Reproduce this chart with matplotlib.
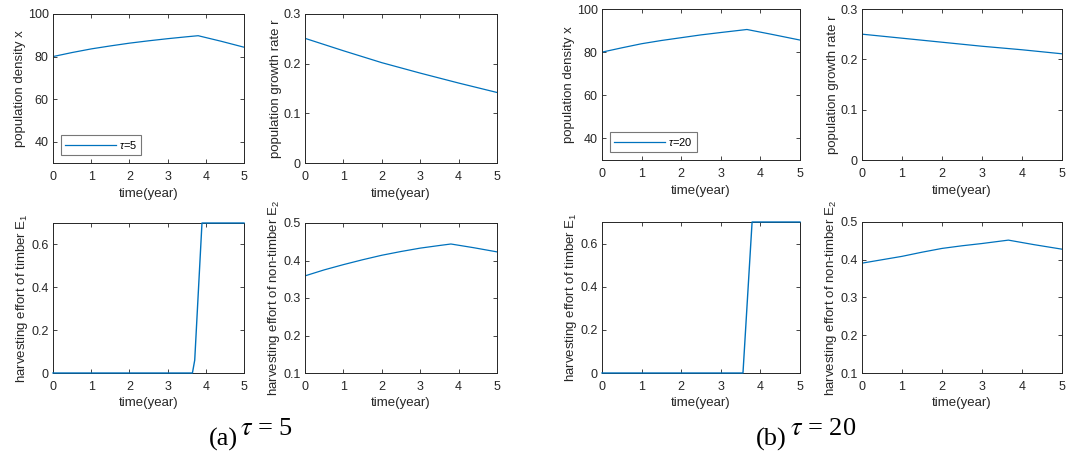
import matplotlib
matplotlib.use("Agg")
import matplotlib.pyplot as plt
from matplotlib.ticker import FormatStrFormatter

plt.rcParams['font.family'] = ['Liberation Sans', 'DejaVu Sans']
plt.rcParams['mathtext.fontset'] = 'custom'
plt.rcParams['mathtext.rm'] = 'Liberation Sans'
plt.rcParams['mathtext.it'] = 'Liberation Sans:italic'

BLUE = '#0072BD'
INK = '#262626'

# ---- data ----
# (a) tau = 5
t_x_a = [0, 0.5, 1, 1.5, 2, 2.5, 3, 3.5, 3.8, 4.4, 5]
x_a = [80, 81.9, 83.6, 85.0, 86.3, 87.4, 88.4, 89.3, 89.8, 87.2, 84.4]
t_r_a = [0, 1, 2, 3, 4, 5]
r_a = [0.251, 0.226, 0.202, 0.181, 0.161, 0.142]
t_e1_a = [0, 3.65, 3.71, 3.90, 5]
e1_a = [0, 0, 0.06, 0.70, 0.70]
t_e2_a = [0, 0.5, 1, 1.5, 2, 2.5, 3, 3.5, 3.8, 4.4, 5]
e2_a = [0.359, 0.375, 0.389, 0.402, 0.414, 0.424, 0.433, 0.440, 0.444, 0.434, 0.423]

# (b) tau = 20
t_x_b = [0, 0.5, 1, 1.5, 2, 2.5, 3, 3.66, 4.3, 5]
x_b = [80, 82.0, 83.9, 85.4, 86.7, 88.0, 89.1, 90.5, 88.2, 85.6]
t_r_b = [0, 1, 2, 3, 4, 5]
r_b = [0.250, 0.242, 0.234, 0.226, 0.219, 0.211]
t_e1_b = [0, 3.56, 3.79, 5]
e1_b = [0, 0, 0.70, 0.70]
t_e2_b = [0, 0.5, 1, 1.5, 2, 2.5, 3, 3.66, 4.3, 5]
e2_b = [0.391, 0.400, 0.409, 0.420, 0.430, 0.437, 0.443, 0.452, 0.440, 0.428]

W, H = 1067, 454
fig = plt.figure(figsize=(W / 100, H / 100), dpi=100)


def box(left, right, top, bottom):
    return [left / W, 1 - bottom / H, (right - left) / W, (bottom - top) / H]


def style(ax, ylim, yticks, ylabel):
    ax.set_xlim(0, 5)
    ax.set_ylim(*ylim)
    ax.set_xticks([0, 1, 2, 3, 4, 5])
    ax.set_yticks(yticks)
    ax.yaxis.set_major_formatter(FormatStrFormatter('%g'))
    ax.tick_params(direction='in', top=True, right=True, length=3, width=0.6,
                   labelsize=9, colors=INK)
    ax.tick_params(axis='x', pad=6)
    ax.tick_params(axis='y', pad=3)
    for s in ax.spines.values():
        s.set_linewidth(0.7)
        s.set_color(INK)
    ax.set_xlabel('time(year)', fontsize=9.5, color=INK, labelpad=3)
    ax.set_ylabel(ylabel, fontsize=9.5, color=INK, labelpad=1)


panels = [
    # left, right, top, bottom pixel boxes
    (box(53, 244, 14, 163), box(305, 497, 14, 163), box(53, 244, 223, 373), box(305, 497, 223, 373),
     (t_x_a, x_a), (t_r_a, r_a), (t_e1_a, e1_a), (t_e2_a, e2_a), r'$\tau$=5'),
    (box(602, 800, 9, 160), box(862, 1062, 9, 160), box(602, 800, 222, 373), box(862, 1062, 222, 373),
     (t_x_b, x_b), (t_r_b, r_b), (t_e1_b, e1_b), (t_e2_b, e2_b), r'$\tau$=20'),
]

for b1, b2, b3, b4, dx, dr, de1, de2, lab in panels:
    ax1 = fig.add_axes(b1)
    ax1.plot(dx[0], dx[1], color=BLUE, lw=0.9, label=lab)
    style(ax1, (30, 100), [40, 60, 80, 100], 'population density x')
    leg = ax1.legend(loc='lower left', fontsize=8, handlelength=4.6, borderpad=0.35,
                     handletextpad=0.3, fancybox=False, borderaxespad=0.7)
    leg.get_frame().set_edgecolor('#555555')
    leg.get_frame().set_linewidth(0.8)

    ax2 = fig.add_axes(b2)
    ax2.plot(dr[0], dr[1], color=BLUE, lw=0.9)
    style(ax2, (0, 0.3), [0, 0.1, 0.2, 0.3], 'population growth rate r')

    ax3 = fig.add_axes(b3)
    ax3.plot(de1[0], de1[1], color=BLUE, lw=1.0, clip_on=False, zorder=5)
    style(ax3, (0, 0.7), [0, 0.2, 0.4, 0.6], 'harvesting effort of timber E$_1$')

    ax4 = fig.add_axes(b4)
    ax4.plot(de2[0], de2[1], color=BLUE, lw=0.9)
    style(ax4, (0.1, 0.5), [0.1, 0.2, 0.3, 0.4, 0.5], 'harvesting effort of non-timber E$_2$')

# captions
fig.text(223 / W, 1 - 439 / H, '(a)', family='Liberation Serif', fontsize=19,
         ha='center', va='center')
fig.text(267 / W, 1 - 429 / H, r'$\tau$ = 5', family='Liberation Serif', fontsize=19,
         math_fontfamily='stix', ha='center', va='center')
fig.text(771 / W, 1 - 439 / H, '(b)', family='Liberation Serif', fontsize=19,
         ha='center', va='center')
fig.text(823 / W, 1 - 429 / H, r'$\tau$ = 20', family='Liberation Serif', fontsize=19,
         math_fontfamily='stix', ha='center', va='center')

fig.savefig('out.png', dpi=100)
